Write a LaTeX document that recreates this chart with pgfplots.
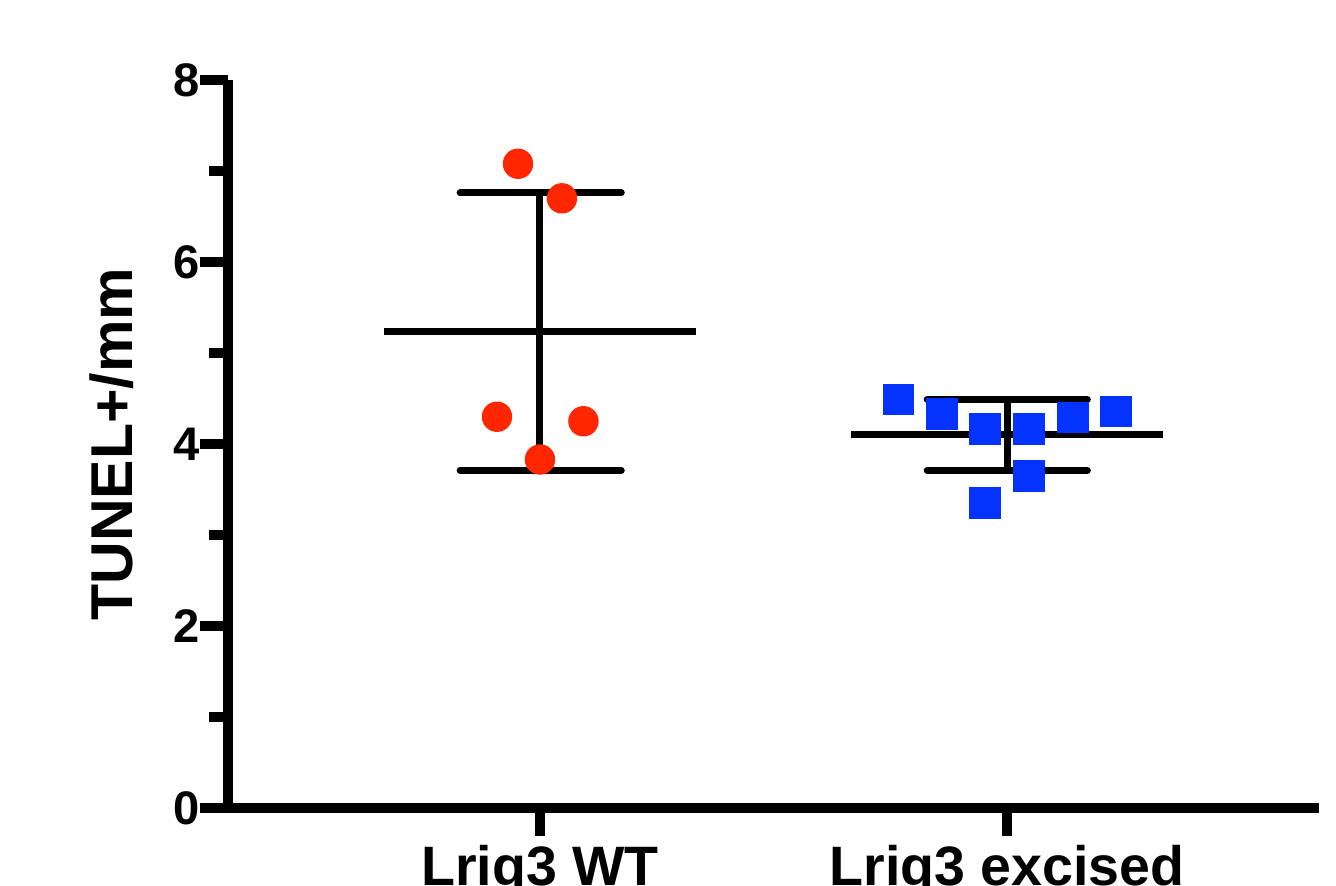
\documentclass[border=0pt]{standalone}
\usepackage{pgfplots}
\pgfplotsset{compat=1.18}
\usepackage{fontspec}
\setmainfont{Liberation Sans}
\definecolor{wtred}{RGB}{255,38,0}
\definecolor{exblue}{RGB}{4,51,255}
\begin{document}
\begin{tikzpicture}
\begin{axis}[
  at={(22.8mm,7.7mm)}, anchor=south west,
  scale only axis, width=109.1mm, height=72.8mm,
  xmin=0.332, xmax=2.668, ymin=0, ymax=8,
  axis x line=bottom, axis y line=left,
  axis line style={line width=1mm, -},
  tick style={line width=1mm, black},
  tick align=outside,
  major tick length=2.8mm, minor tick length=1.9mm,
  ytick={0,2,4,6,8}, minor ytick={1,3,5,7},
  xtick={1,2}, xticklabels={Lrig3 WT, Lrig3 excised},
  /pgf/number format/assume math mode=true,
  yticklabel style={font=\fontsize{13.4}{13.4}\selectfont\bfseries, anchor=east, inner sep=0pt},
  xticklabel style={font=\fontsize{15.8}{15.8}\selectfont\bfseries, anchor=north, inner sep=0pt, yshift=-0.9mm},
  ylabel={TUNEL+/mm},
  ylabel style={font=\fontsize{16.8}{16.8}\selectfont\bfseries, at={(axis description cs:-0.0874,0.5)}, anchor=base},
  clip=false,
]
% WT mean and SD
\addplot[black, line width=0.7mm] coordinates {(0.666,5.236) (1.334,5.236)};
\addplot[black, line width=0.7mm] coordinates {(1,3.71) (1,6.76)};
\addplot[black, line width=0.7mm, line cap=round] coordinates {(0.829,6.76) (1.174,6.76)};
\addplot[black, line width=0.7mm, line cap=round] coordinates {(0.829,3.71) (1.174,3.71)};
% Excised mean and SD
\addplot[black, line width=0.7mm] coordinates {(1.666,4.10) (2.334,4.10)};
\addplot[black, line width=0.7mm] coordinates {(2,3.71) (2,4.49)};
\addplot[black, line width=0.7mm, line cap=round] coordinates {(1.829,4.49) (2.172,4.49)};
\addplot[black, line width=0.7mm, line cap=round] coordinates {(1.829,3.71) (2.172,3.71)};
% WT points
\addplot[only marks, mark=*, mark size=1.45mm, color=wtred, mark options={draw=none, fill=wtred}] coordinates {
 (0.953,7.08) (1.047,6.70) (0.908,4.30) (1.093,4.25) (1.000,3.83)
};
% Excised points
\addplot[only marks, mark=square*, mark size=1.5mm, color=exblue, mark options={draw=none, fill=exblue}] coordinates {
 (1.767,4.49) (1.861,4.33) (1.953,4.165) (2.047,4.165) (2.141,4.29) (2.233,4.36) (2.047,3.65) (1.953,3.35)
};
\end{axis}
\pgfresetboundingbox
\useasboundingbox (0,0) rectangle (133.6mm,88.5mm);
\end{tikzpicture}
\end{document}
